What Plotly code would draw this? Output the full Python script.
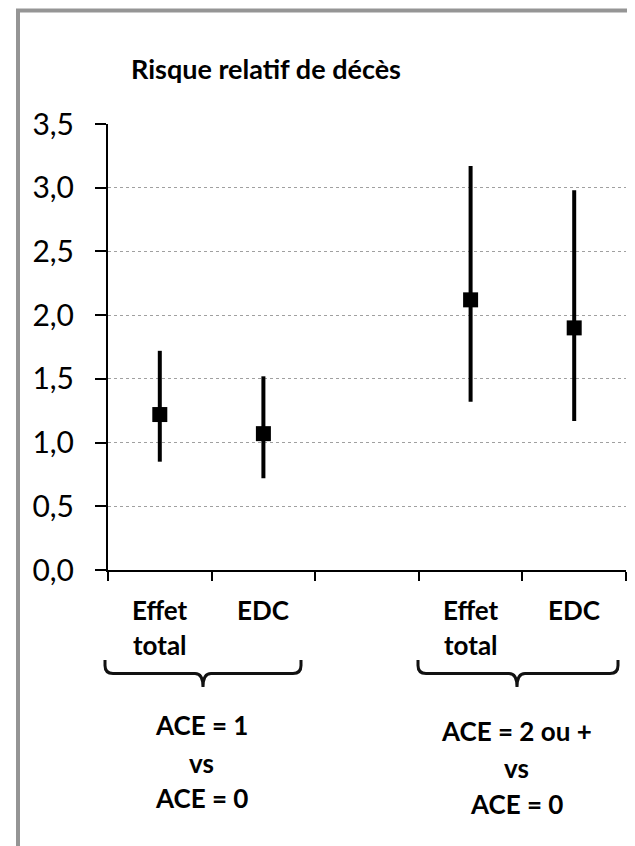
import plotly.graph_objects as go

# ---- data ----
slot_labels = [["Effet", "total"], ["EDC"], [], ["Effet", "total"], ["EDC"]]
x_pos = [1, 2, 4, 5]
rr = [1.22, 1.07, 2.12, 1.90]
ci_low = [0.85, 0.72, 1.32, 1.17]
ci_high = [1.72, 1.52, 3.17, 2.98]
groups = [["ACE = 1", "vs", "ACE = 0"], ["ACE = 2 ou +", "vs", "ACE = 0"]]
y_ticks = [0, 0.5, 1.0, 1.5, 2.0, 2.5, 3.0, 3.5]
title_text = "Risque relatif de décès"

OFF = 8  # page body margin
W, H = 635 - OFF, 846 - OFF
L, R, T, B = 108, 626, 124, 570  # plot area in window pixels
FONT = "Lato"


def px(xp):
    return (xp - L) / (R - L)


def py(yp):
    return (B - yp) / (B - T)


fig = go.Figure()
fig.add_trace(go.Scatter(
    x=x_pos, y=rr, mode="markers",
    marker=dict(symbol="square", size=15, color="black"),
    error_y=dict(type="data", symmetric=False,
                 array=[h - v for h, v in zip(ci_high, rr)],
                 arrayminus=[v - l for l, v in zip(ci_low, rr)],
                 color="black", thickness=4, width=0),
    showlegend=False, hoverinfo="skip",
))

annotations = []
# title
annotations.append(dict(text="<b>%s</b>" % title_text, x=px(266), y=py(68),
                        xref="paper", yref="paper", showarrow=False,
                        xanchor="center", yanchor="middle",
                        font=dict(family=FONT, size=27, color="black")))
# category labels
line_y = [610, 645]
for i, lines in enumerate(slot_labels):
    for j, t in enumerate(lines):
        annotations.append(dict(text="<b>%s</b>" % t, x=i + 1, y=py(line_y[j]),
                                xref="x", yref="paper", showarrow=False,
                                xanchor="center", yanchor="middle",
                                font=dict(family=FONT, size=26, color="black")))
# group labels
group_x = [201, 516]
group_y = [[725, 763, 798], [731, 768, 804]]
for g, lines in enumerate(groups):
    for j, t in enumerate(lines):
        annotations.append(dict(text="<b>%s</b>" % t, x=px(group_x[g]), y=py(group_y[g][j]),
                                xref="paper", yref="paper", showarrow=False,
                                xanchor="center", yanchor="middle",
                                font=dict(family=FONT, size=26, color="black")))

shapes = []
# braces
braces = [(105, 301, 203), (418, 618, 517)]
ytop, ybase, yspike = py(660), py(673.5), py(687)
for x0p, x1p, xmp in braces:
    x0, x1, xm = px(x0p), px(x1p), px(xmp)
    r = 8 / (R - L)
    ry = 8 / (B - T)
    path = (f"M {x0},{ytop} L {x0},{ybase + ry} Q {x0},{ybase} {x0 + r},{ybase} "
            f"L {xm - r},{ybase} Q {xm},{ybase} {xm},{yspike} "
            f"Q {xm},{ybase} {xm + r},{ybase} L {x1 - r},{ybase} "
            f"Q {x1},{ybase} {x1},{ybase + ry} L {x1},{ytop}")
    shapes.append(dict(type="path", path=path, xref="paper", yref="paper",
                       line=dict(color="#111", width=3)))
# outer frame (left and top edges visible)
shapes.append(dict(type="line", xref="paper", yref="paper",
                   x0=px(18), x1=px(18), y0=py(10.5), y1=py(860),
                   line=dict(color="#959595", width=4)))
shapes.append(dict(type="line", xref="paper", yref="paper",
                   x0=px(16), x1=px(660), y0=py(10.5), y1=py(10.5),
                   line=dict(color="#959595", width=4)))

fig.update_layout(
    width=W, height=H,
    margin=dict(l=L - OFF, r=635 - R, t=T - OFF, b=846 - B, pad=0),
    paper_bgcolor="white", plot_bgcolor="white",
    separators=", ",
    annotations=annotations, shapes=shapes,
    font=dict(family=FONT, color="black"),
    xaxis=dict(range=[0.5, 5.5], tickmode="array",
               tickvals=[0.5, 1.5, 2.5, 3.5, 4.5, 5.5],
               ticktext=[""] * 6, ticks="outside", ticklen=9, tickwidth=2,
               tickcolor="black", showgrid=False, zeroline=False,
               showline=True, linecolor="black", linewidth=2, fixedrange=True),
    yaxis=dict(range=[0, 3.5], tickmode="array", tickvals=y_ticks,
               tickformat=".1f", ticks="outside", ticklen=11, tickwidth=2,
               tickcolor="black", ticklabelstandoff=15,
               tickfont=dict(family=FONT, size=30, color="black"),
               showgrid=True, gridcolor="#a0a0a0", griddash="dot", gridwidth=1,
               zeroline=False, showline=True, linecolor="black", linewidth=2,
               fixedrange=True),
)

fig.write_html("out.html")
